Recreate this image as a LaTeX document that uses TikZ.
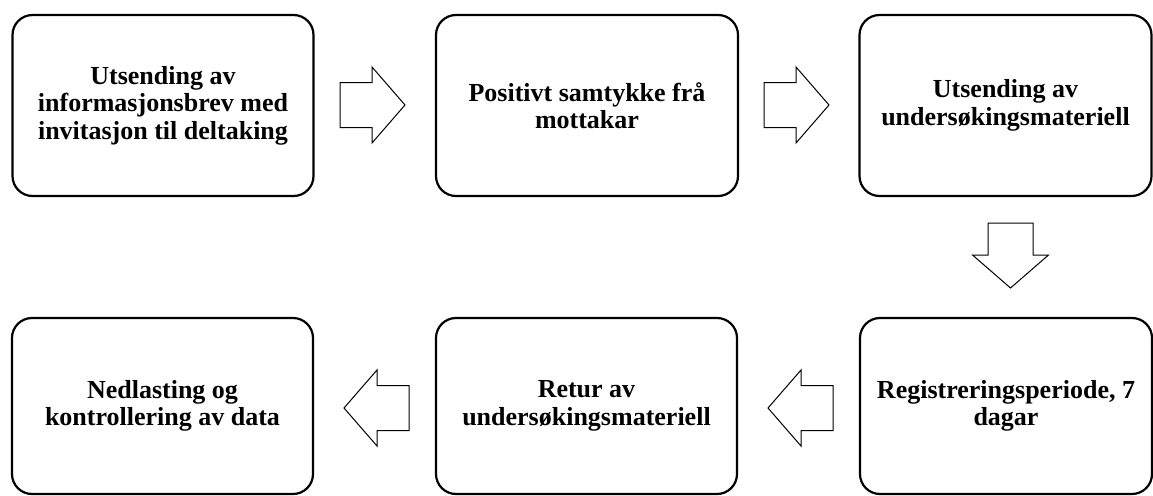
\documentclass[tikz,border=0pt]{standalone}
\usepackage{fontspec}
\setmainfont{Liberation Serif}
\begin{document}
\begin{tikzpicture}[x=1pt,y=-1pt,
  stepbox/.style={draw=black, line width=2.2pt, rounded corners=20pt, align=center,
    font=\fontsize{26}{27.5}\selectfont\bfseries, inner sep=0pt},
  arrowline/.style={draw=black, line width=1pt, fill=white, line join=miter},
  blockarrow/.pic={\draw[arrowline] (0,-22.5) -- (32,-22.5) -- (32,-38) -- (65,0) -- (32,38) -- (32,22.5) -- (0,22.5) -- cycle;}
]
\useasboundingbox (0,0) rectangle (1153,495);
\node[stepbox, minimum width=301pt, minimum height=181pt] (b1) at (163,105.5)
  {Utsending av\\informasjonsbrev med\\invitasjon til deltaking};
\node[stepbox, minimum width=302pt, minimum height=181pt] (b2) at (587,105.5)
  {Positivt samtykke frå\\mottakar};
\node[stepbox, minimum width=292pt, minimum height=181pt] (b3) at (1005.5,105.5)
  {Utsending av\\undersøkingsmateriell};
\node[stepbox, minimum width=292pt, minimum height=176pt] (b6) at (1006,406)
  {Registreringsperiode, 7\\dagar};
\node[stepbox, minimum width=301pt, minimum height=176pt] (b5) at (586.5,406)
  {Retur av\\undersøkingsmateriell};
\node[stepbox, minimum width=301pt, minimum height=176pt] (b4) at (162.5,406)
  {Nedlasting og\\kontrollering av data};
\pic at (340,105) {blockarrow};
\pic at (764,105) {blockarrow};
\pic[rotate=-90] at (1010.5,223) {blockarrow};
\pic[rotate=180] at (833,408) {blockarrow};
\pic[rotate=180] at (409,408) {blockarrow};
\end{tikzpicture}
\end{document}
